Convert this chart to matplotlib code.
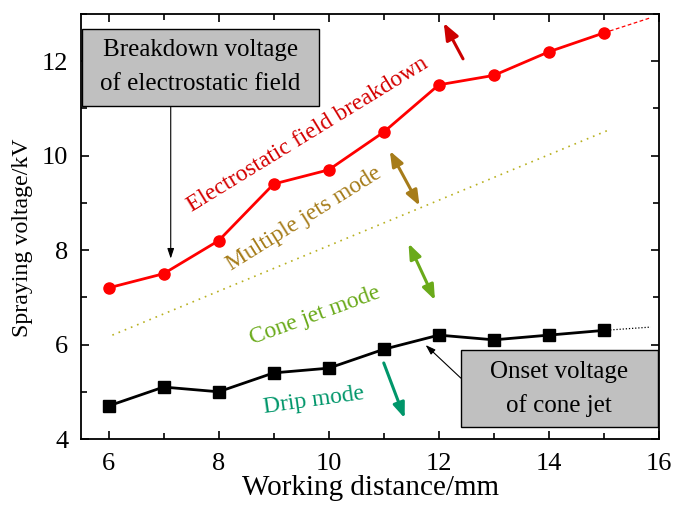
import matplotlib
matplotlib.use("Agg")
import matplotlib.pyplot as plt
from matplotlib.patches import Rectangle
from matplotlib.ticker import MultipleLocator

plt.rcParams['font.family'] = ['Liberation Serif', 'DejaVu Serif']
plt.rcParams['mathtext.fontset'] = 'stix'

distance = [6, 7, 8, 9, 10, 11, 12, 13, 14, 15]
breakdown_kv = [7.2, 7.5, 8.2, 9.4, 9.7, 10.5, 11.5, 11.7, 12.2, 12.6]
onset_kv = [4.7, 5.1, 5.0, 5.4, 5.5, 5.9, 6.2, 6.1, 6.2, 6.3]
breakdown_ext_x = [15, 15.82]
breakdown_ext_y = [12.6, 12.91]
onset_ext_x = [15, 15.85]
onset_ext_y = [6.3, 6.37]
multi_x = [6.07, 15.1]
multi_y = [6.2, 10.55]

fig = plt.figure(figsize=(6.73, 5.09), dpi=100)
ax = fig.add_axes([81/673, 1-439/509, (659-81)/673, (439-14)/509])

ax.plot(distance, breakdown_kv, color='#ff0000', lw=2, marker='o', ms=8, zorder=5)
ax.plot(breakdown_ext_x, breakdown_ext_y, color='#ff0000', lw=0.9, ls=(0, (3, 2)))
ax.plot(distance, onset_kv, color='black', lw=2, marker='s', ms=8, zorder=5)
ax.plot(onset_ext_x, onset_ext_y, color='black', lw=0.9, ls=(0, (1, 1.5)))
ax.plot(multi_x, multi_y, color='#b8b020', lw=1.2, ls=(0, (1, 3)))

ax.set_xlim(5.5, 16)
ax.set_ylim(4, 13)
ax.xaxis.set_major_locator(MultipleLocator(2))
ax.xaxis.set_minor_locator(MultipleLocator(1))
ax.yaxis.set_major_locator(MultipleLocator(2))
ax.yaxis.set_minor_locator(MultipleLocator(1))
ax.tick_params(which='both', direction='in', top=True, right=True, labelsize=19, width=1.2)
ax.tick_params(which='major', length=6)
ax.tick_params(which='minor', length=4)
ax.tick_params(axis='x', pad=10)
ax.tick_params(axis='y', pad=9)
for s in ax.spines.values():
    s.set_linewidth(1.3)
ax.set_xlabel('Working distance/mm', fontsize=21, labelpad=0)
ax.set_ylabel('Spraying voltage/kV', fontsize=17.2)
ax.yaxis.set_label_coords(-0.083, 0.473)

# region labels
ax.text(9.62, 10.44, 'Electrostatic field breakdown', color='#d40000', fontsize=17,
        rotation=31.5, ha='center', va='center', rotation_mode='anchor')
ax.text(9.55, 8.67, 'Multiple jets mode', color='#a67c1a', fontsize=17,
        rotation=32, ha='center', va='center', rotation_mode='anchor')
ax.text(9.75, 6.62, 'Cone jet mode', color='#6aaa1a', fontsize=17,
        rotation=20, ha='center', va='center', rotation_mode='anchor')
ax.text(9.73, 4.82, 'Drip mode', color='#00966a', fontsize=17,
        rotation=8, ha='center', va='center', rotation_mode='anchor')

# mode arrows
ax.annotate('', xy=(12.09, 12.81), xytext=(12.44, 12.05),
            arrowprops=dict(arrowstyle='-|>,head_length=1.0,head_width=0.4', color='#cc0000', lw=2.2,
                            shrinkA=0, shrinkB=0))
ax.annotate('', xy=(11.11, 10.10), xytext=(11.65, 8.94),
            arrowprops=dict(arrowstyle='<|-|>,head_length=0.9,head_width=0.35', color='#a67c1a', lw=2.2,
                            shrinkA=0, shrinkB=0))
ax.annotate('', xy=(11.45, 8.14), xytext=(11.93, 6.94),
            arrowprops=dict(arrowstyle='<|-|>,head_length=0.9,head_width=0.35', color='#6aaa1a', lw=2.2,
                            shrinkA=0, shrinkB=0))
ax.annotate('', xy=(11.38, 4.44), xytext=(11.0, 5.61),
            arrowprops=dict(arrowstyle='-|>,head_length=0.9,head_width=0.35', color='#00966a', lw=2.2,
                            shrinkA=0, shrinkB=0))

# boxes
ax.add_patch(Rectangle((5.52, 11.06), 9.82 - 5.52, 12.69 - 11.06, facecolor='#c0c0c0',
                       edgecolor='black', lw=1.0, zorder=6))
ax.text(7.67, 11.875, 'Breakdown voltage\nof electrostatic field', fontsize=18, ha='center',
        va='center', linespacing=1.7, zorder=7)
ax.annotate('', xy=(7.13, 7.82), xytext=(7.13, 11.06),
            arrowprops=dict(arrowstyle='-|>,head_length=0.6,head_width=0.2', color='black', lw=0.8,
                            shrinkA=0, shrinkB=0))

ax.add_patch(Rectangle((12.4, 4.25), 15.98 - 12.4, 5.88 - 4.25, facecolor='#c0c0c0',
                       edgecolor='black', lw=1.0, zorder=6))
ax.text(14.19, 5.065, 'Onset voltage\nof cone jet', fontsize=18, ha='center',
        va='center', linespacing=1.6, zorder=7)
ax.annotate('', xy=(11.76, 5.99), xytext=(12.4, 5.29),
            arrowprops=dict(arrowstyle='-|>,head_length=0.6,head_width=0.2', color='black', lw=0.8,
                            shrinkA=0, shrinkB=0))

fig.savefig('out.png', dpi=100)
